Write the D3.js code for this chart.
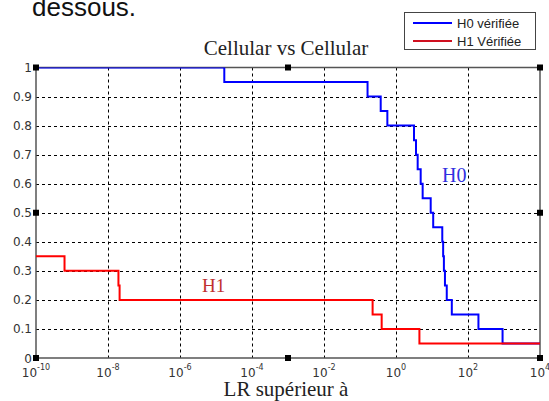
<!DOCTYPE html>
<html><head><meta charset="utf-8">
<script src="https://cdn.jsdelivr.net/npm/d3@7"></script>
<style>body{margin:0;background:#fff}svg{display:block}</style>
</head><body>
<script>
const blueX = [1e-10, 1.7e-5, 0.162, 0.376, 0.575, 3.16, 3.6, 4.0, 4.85, 5.5, 9.2, 10.8, 19.3, 20.4, 21.4, 22.9, 25.7, 35.5, 195, 912, 1e4];
const blueY = [1, 0.95, 0.9, 0.85, 0.8, 0.75, 0.7, 0.65, 0.6, 0.55, 0.5, 0.45, 0.4, 0.35, 0.3, 0.25, 0.2, 0.15, 0.1, 0.05, 0.05];
const redX = [1e-10, 6.2e-10, 1.95e-8, 2.1e-8, 0.224, 0.40, 4.47, 1e4];
const redY = [0.35, 0.3, 0.25, 0.2, 0.15, 0.1, 0.05, 0.05];
const xTicks = [1e-10, 1e-8, 1e-6, 1e-4, 1e-2, 1e0, 1e2, 1e4];
const xTickExp = ["-10", "-8", "-6", "-4", "-2", "0", "2", "4"];
const yTicks = [0, 0.1, 0.2, 0.3, 0.4, 0.5, 0.6, 0.7, 0.8, 0.9, 1];
const yTickLabels = ["0", "0.1", "0.2", "0.3", "0.4", "0.5", "0.6", "0.7", "0.8", "0.9", "1"];
const legendLabels = ["H0 vérifiée", "H1 Vérifiée"];
const title = "Cellular vs Cellular";
const xLabel = "LR supérieur à";

const W = 549, H = 401;
const L = 36, R = 540, T = 67.5, B = 358;
const svg = d3.select("body").append("svg").attr("width", W).attr("height", H);
const x = d3.scaleLog().domain([1e-10, 1e4]).range([L, R]);
const y = d3.scaleLinear().domain([0, 1]).range([B, T]);

// cropped document text
svg.append("text").attr("x", 32).attr("y", 16).attr("font-family", "Liberation Sans, Arial, sans-serif")
  .attr("font-size", 26).attr("fill", "#111").text("dessous.");

// grid
const grid = svg.append("g").attr("stroke", "#000").attr("stroke-width", 1).attr("stroke-dasharray", "3,3");
grid.selectAll("line.v").data(xTicks.slice(1, -1)).join("line")
  .attr("x1", d => Math.round(x(d)) + 0.5).attr("x2", d => Math.round(x(d)) + 0.5).attr("y1", T).attr("y2", B);
grid.selectAll("line.h").data(yTicks.slice(1, -1)).join("line")
  .attr("y1", d => Math.round(y(d)) + 0.5).attr("y2", d => Math.round(y(d)) + 0.5).attr("x1", L).attr("x2", R);

// axes box
svg.append("rect").attr("x", L).attr("y", T).attr("width", R - L).attr("height", B - T)
  .attr("fill", "none").attr("stroke", "#555").attr("stroke-width", 1.5);

// tick labels
const yl = svg.append("g").attr("font-family", "DejaVu Sans, sans-serif").attr("font-size", 12).attr("fill", "#333");
yl.selectAll("text").data(yTicks).join("text")
  .attr("x", 32).attr("y", d => y(d) + 4.5).attr("text-anchor", "end")
  .text((d, i) => yTickLabels[i]);
const xl = svg.append("g").attr("font-family", "DejaVu Sans, sans-serif").attr("fill", "#333");
xl.selectAll("text").data(xTicks).join("text")
  .attr("x", d => x(d)).attr("y", 377).attr("text-anchor", "middle").attr("font-size", 12)
  .each(function (d, i) {
    const t = d3.select(this);
    t.append("tspan").text("10");
    t.append("tspan").attr("font-size", 8).attr("dy", -7).text(xTickExp[i]);
  });

// lines
svg.append("clipPath").attr("id", "clip").append("rect").attr("x", L).attr("y", T).attr("width", R - L).attr("height", B - T);
const line = d3.line().x(d => x(d[0])).y(d => y(d[1])).curve(d3.curveStepAfter);
const g = svg.append("g").attr("clip-path", "url(#clip)");
g.append("path").datum(blueX.map((v, i) => [v, blueY[i]])).attr("d", line)
  .attr("fill", "none").attr("stroke", "#0000ff").attr("stroke-width", 2);
g.append("path").datum(redX.map((v, i) => [v, redY[i]])).attr("d", line)
  .attr("fill", "none").attr("stroke", "#ff0000").attr("stroke-width", 2);

// selection handles
const handles = [[L, T], [(L + R) / 2, T], [R, T], [L, (T + B) / 2], [R, (T + B) / 2], [L, B], [(L + R) / 2, B], [R, B]];
svg.append("g").selectAll("rect").data(handles).join("rect")
  .attr("x", d => d[0] - 3).attr("y", d => d[1] - 3).attr("width", 6).attr("height", 6).attr("fill", "#000");

// annotations
svg.append("text").attr("x", 442).attr("y", 182).attr("font-family", "Liberation Serif, Times New Roman, serif")
  .attr("font-size", 20).attr("fill", "#3030e0").text("H0");
svg.append("text").attr("x", 202).attr("y", 292).attr("font-family", "Liberation Serif, Times New Roman, serif")
  .attr("font-size", 19).attr("fill", "#c03030").text("H1");

// title and x label
svg.append("text").attr("x", 286).attr("y", 55).attr("text-anchor", "middle")
  .attr("font-family", "Liberation Serif, Times New Roman, serif").attr("font-size", 21).attr("fill", "#222").text(title);
svg.append("text").attr("x", 286).attr("y", 396).attr("text-anchor", "middle")
  .attr("font-family", "Liberation Serif, Times New Roman, serif").attr("font-size", 21).attr("fill", "#222").text(xLabel);

// legend
const lg = svg.append("g");
lg.append("rect").attr("x", 404.5).attr("y", 12.5).attr("width", 131).attr("height", 37)
  .attr("fill", "#fff").attr("stroke", "#444").attr("stroke-width", 1);
const legColors = ["#0000ff", "#d01020"];
legendLabels.forEach((t, i) => {
  const yy = 23 + i * 18;
  lg.append("line").attr("x1", 413).attr("x2", 452).attr("y1", yy).attr("y2", yy)
    .attr("stroke", legColors[i]).attr("stroke-width", 2);
  lg.append("text").attr("x", 457).attr("y", yy + 4.5).attr("font-family", "Liberation Sans, Arial, sans-serif")
    .attr("font-size", 13).attr("fill", "#222").text(t);
});
</script>
</body></html>
